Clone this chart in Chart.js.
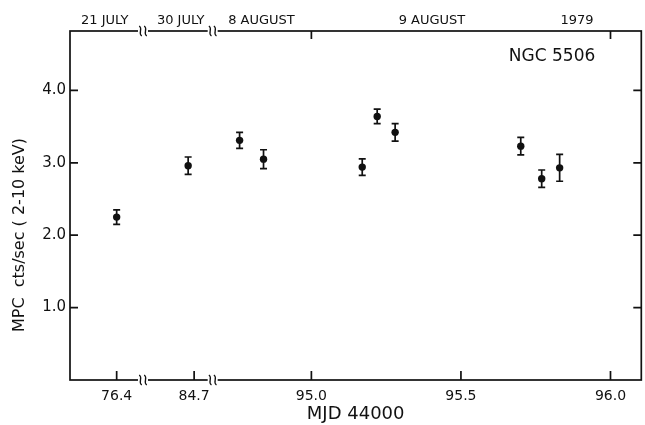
<!DOCTYPE html>
<html>
<head>
<meta charset="utf-8">
<title>NGC 5506</title>
<script src="https://cdn.jsdelivr.net/npm/chart.js@4.4.0/dist/chart.umd.min.js"></script>
<style>
	html, body { margin: 0; padding: 0; background: #fff; }
	#wrap { width: 645px; height: 425px; }
</style>
</head>
<body>
<div id="wrap"><canvas id="chart" width="645" height="425"></canvas></div>
<script>
	//Data (MJD - 44000, MPC rate, 1 sigma error)
	var mjd = [76.40, 84.68, 94.76, 94.84, 95.17, 95.22, 95.28, 95.70, 95.77, 95.83];
	var rate = [2.25, 2.96, 3.31, 3.05, 2.94, 3.64, 3.42, 3.23, 2.78, 2.93];
	var rateErr = [0.10, 0.12, 0.11, 0.13, 0.115, 0.10, 0.12, 0.12, 0.12, 0.185];

	var xTickValues = [76.4, 84.7, 95.0, 95.5, 96.0];
	var xTickLabels = ["76.4", "84.7", "95.0", "95.5", "96.0"];
	var yTickValues = [1, 2, 3, 4];
	var topTickValues = [95.0, 96.0];
	var topLabels = ["21 JULY", "30 JULY", "8 AUGUST", "9 AUGUST", "1979"];
	var topLabelAt = [76.36, 84.655, 94.833, 95.403, 95.888];

	//Broken axis: each segment anchor and where it sits on the axis
	var segFrom = [76.4, 84.7, 95.0];
	var segAxis = [94.349, 94.608, 95.0];
	var breakAxis = [94.437, 94.670];

	function toAxis(v) {
		var i = v < 80 ? 0 : (v < 90 ? 1 : 2);
		return v - segFrom[i] + segAxis[i];
	}

	var ink = "#111";
	var fontName = "'DejaVu Sans', sans-serif";
	Chart.defaults.font.family = fontName;
	Chart.defaults.color = ink;

	var points = mjd.map(function(v, i) {
		return { x: toAxis(v), y: rate[i] };
	});

	function squiggle(ctx, px, py) {
		ctx.fillStyle = "#fff";
		ctx.fillRect(px - 5, py - 2, 10, 4);
		ctx.beginPath();
		[-2.5, 2.5].forEach(function(k) {
			ctx.moveTo(px + k - 1.3, py - 5);
			ctx.bezierCurveTo(px + k + 3, py - 2.5, px + k - 3, py + 2.5, px + k + 1.3, py + 5);
		});
		ctx.stroke();
	}

	var framePlugin = {
		id: "frame",
		afterDatasetsDraw: function(chart) {
			//error bars
			var ctx = chart.ctx;
			var xs = chart.scales.x, ys = chart.scales.y;
			ctx.save();
			ctx.strokeStyle = ink;
			ctx.lineWidth = 1.7;
			mjd.forEach(function(v, i) {
				var px = xs.getPixelForValue(toAxis(v));
				var top = ys.getPixelForValue(rate[i] + rateErr[i]);
				var bot = ys.getPixelForValue(rate[i] - rateErr[i]);
				ctx.beginPath();
				ctx.moveTo(px, top); ctx.lineTo(px, bot);
				ctx.moveTo(px - 3.5, top); ctx.lineTo(px + 3.5, top);
				ctx.moveTo(px - 3.5, bot); ctx.lineTo(px + 3.5, bot);
				ctx.stroke();
			});
			ctx.restore();
		},
		afterDraw: function(chart) {
			var ctx = chart.ctx;
			var a = chart.chartArea;
			var xs = chart.scales.x, ys = chart.scales.y;
			ctx.save();
			ctx.strokeStyle = ink;
			ctx.lineWidth = 1.7;
			ctx.strokeRect(a.left, a.top, a.right - a.left, a.bottom - a.top);

			//inward ticks
			ctx.beginPath();
			xTickValues.forEach(function(v) {
				var px = xs.getPixelForValue(toAxis(v));
				ctx.moveTo(px, a.bottom); ctx.lineTo(px, a.bottom - 9);
			});
			topTickValues.forEach(function(v) {
				var px = xs.getPixelForValue(toAxis(v));
				ctx.moveTo(px, a.top); ctx.lineTo(px, a.top + 8);
			});
			yTickValues.forEach(function(v) {
				var py = ys.getPixelForValue(v);
				ctx.moveTo(a.left, py); ctx.lineTo(a.left + 8, py);
				ctx.moveTo(a.right, py); ctx.lineTo(a.right - 8, py);
			});
			ctx.stroke();

			//axis breaks
			ctx.lineWidth = 1.3;
			breakAxis.forEach(function(v) {
				var px = xs.getPixelForValue(v);
				squiggle(ctx, px, a.top);
				squiggle(ctx, px, a.bottom);
			});

			//labels
			ctx.fillStyle = ink;
			ctx.font = "17px " + fontName;
			ctx.textAlign = "right";
			ctx.textBaseline = "middle";
			ctx.fillText("NGC 5506", a.right - 46, a.top + 26);

			ctx.translate(20, 235);
			ctx.rotate(-Math.PI / 2);
			ctx.textAlign = "center";
			ctx.font = "16px " + fontName;
			ctx.fillText("MPC  cts/sec ( 2-10 keV)", 0, 0);
			ctx.restore();
		}
	};

	var ctx = document.getElementById("chart");
	var myChart = new Chart(ctx, {
		type: "scatter",
		data: {
			datasets: [{
				data: points,
				xAxisID: "x",
				yAxisID: "y",
				pointRadius: 3.7,
				pointHoverRadius: 3.7,
				backgroundColor: ink,
				borderColor: ink,
				borderWidth: 0
			}]
		},
		options: {
			responsive: false,
			animation: false,
			events: [],
			layout: { padding: { left: 0, right: 2, top: 0, bottom: 0 } },
			plugins: {
				legend: { display: false },
				tooltip: { enabled: false }
			},
			scales: {
				x: {
					type: "linear",
					position: "bottom",
					min: 94.193,
					max: 96.103,
					afterBuildTicks: function(s) {
						s.ticks = xTickValues.map(function(v) { return { value: toAxis(v) }; });
					},
					afterFit: function(s) { s.height = 45; },
					grid: { display: false, drawTicks: false },
					border: { display: false },
					ticks: {
						padding: 8,
						autoSkip: false,
						maxRotation: 0,
						font: { size: 14 },
						callback: function(val, i) { return xTickLabels[i]; }
					},
					title: {
						display: true,
						text: "MJD 44000",
						font: { size: 18 },
						padding: { top: 0, bottom: 0 }
					}
				},
				xTop: {
					type: "linear",
					axis: "x",
					position: "top",
					min: 94.193,
					max: 96.103,
					afterBuildTicks: function(s) {
						s.ticks = topLabelAt.map(function(v) { return { value: toAxis(v) }; });
					},
					afterFit: function(s) { s.height = 31; },
					grid: { display: false, drawTicks: false },
					border: { display: false },
					ticks: {
						padding: 3,
						autoSkip: false,
						maxRotation: 0,
						font: { size: 13 },
						callback: function(val, i) { return topLabels[i]; }
					}
				},
				y: {
					type: "linear",
					position: "left",
					min: 0,
					max: 4.82,
					afterBuildTicks: function(s) {
						s.ticks = yTickValues.map(function(v) { return { value: v }; });
					},
					afterFit: function(s) { s.width = 70; },
					grid: { display: false, drawTicks: false },
					border: { display: false },
					ticks: {
						padding: 4,
						font: { size: 15 },
						callback: function(val) { return val.toFixed(1); }
					}
				}
			}
		},
		plugins: [framePlugin]
	});
</script>
</body>
</html>
